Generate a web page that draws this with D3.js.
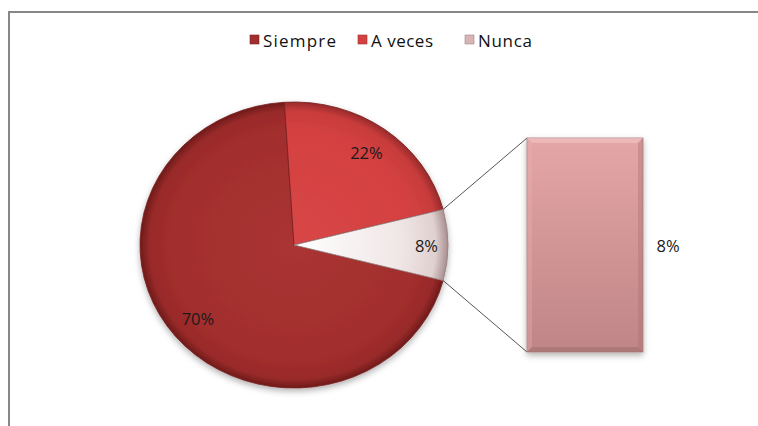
<!DOCTYPE html>
<html><head><meta charset="utf-8">
<script src="https://cdn.jsdelivr.net/npm/d3@7"></script>
<style>html,body{margin:0;padding:0;background:#fff;overflow:hidden}</style>
</head><body>
<svg id="c" width="758" height="426"></svg>
<script>
const categories = ["Siempre", "A veces", "Nunca"];
const values = [70, 22, 8];
const labels = ["70%", "22%", "8%"];
const barCategories = ["Nunca"];
const barValues = [8];
const barLabels = ["8%"];

const svg = d3.select("#c");
const defs = svg.append("defs");

// frame
svg.append("rect").attr("x", 9).attr("y", 12).attr("width", 800).attr("height", 500)
  .attr("fill", "#fff").attr("stroke", "#878787").attr("stroke-width", 2);

const grads = [
  {id: "g0", stops: [["0%", "#AA3432"], ["80%", "#A22E2D"], ["94%", "#992A29"], ["100%", "#6E1A1A"]]},
  {id: "g1", stops: [["0%", "#D84646"], ["80%", "#D44141"], ["94%", "#C83B3B"], ["100%", "#962A2A"]]},
  {id: "g2", stops: [["0%", "#FFFFFF"], ["70%", "#F0E6E6"], ["92%", "#E0D0D0"], ["100%", "#A88F8F"]]}
];
grads.forEach(g => {
  const rg = defs.append("radialGradient").attr("id", g.id)
    .attr("gradientUnits", "userSpaceOnUse").attr("cx", 0).attr("cy", 0).attr("r", 143);
  g.stops.forEach(s => rg.append("stop").attr("offset", s[0]).attr("stop-color", s[1]));
});
const lg = defs.append("linearGradient").attr("id", "gb").attr("x1", 0).attr("y1", 0).attr("x2", 0).attr("y2", 1);
[["0%", "#E5A6A6"], ["100%", "#BF8587"]].forEach(s => lg.append("stop").attr("offset", s[0]).attr("stop-color", s[1]));
const sh = defs.append("filter").attr("id", "sh").attr("x", "-20%").attr("y", "-20%").attr("width", "140%").attr("height", "140%");
sh.append("feDropShadow").attr("dx", 0).attr("dy", 3).attr("stdDeviation", 3).attr("flood-color", "#000").attr("flood-opacity", 0.3);

// pie
const cx = 294, cy = 245, rx = 154, ry = 143;
const total = d3.sum(values);
const nShare = values[2] / total;
const start = Math.PI / 2 + nShare * Math.PI;
const pie = d3.pie().sort(null).startAngle(start).endAngle(start + 2 * Math.PI);
const arcs = pie(values);
const arc = d3.arc().innerRadius(0).outerRadius(ry);

const pg = svg.append("g").attr("transform", `translate(${cx},${cy}) scale(${rx / ry},1)`)
  .attr("filter", "url(#sh)");
pg.selectAll("path").data(arcs).join("path")
  .attr("d", arc)
  .attr("fill", (d, i) => `url(#g${i})`)
  .attr("stroke", (d, i) => i === 2 ? "#9A8080" : "#7A2020")
  .attr("stroke-width", 0.8)
  .attr("stroke-linejoin", "round");

// labels
const lf = [0.81, 0.8, 0.86];
svg.selectAll("text.pl").data(arcs).join("text").attr("class", "pl")
  .attr("x", (d, i) => cx + Math.sin((d.startAngle + d.endAngle) / 2) * rx * lf[i])
  .attr("y", (d, i) => cy - Math.cos((d.startAngle + d.endAngle) / 2) * ry * lf[i])
  .attr("text-anchor", "middle").attr("dominant-baseline", "central")
  .attr("font-family", "Open Sans, sans-serif").attr("font-size", 16.5).attr("fill", "#1a1a1a")
  .text((d, i) => labels[i]);

// secondary bar
const barX = 527, barW = 116;
const y = d3.scaleLinear().domain([0, d3.sum(barValues)]).range([352, 138]);
const nA = arcs[2];
const p1 = [cx + Math.sin(nA.startAngle) * rx, cy - Math.cos(nA.startAngle) * ry];
const p2 = [cx + Math.sin(nA.endAngle) * rx, cy - Math.cos(nA.endAngle) * ry];
svg.append("line").attr("x1", p1[0]).attr("y1", p1[1]).attr("x2", barX).attr("y2", y(barValues[0]))
  .attr("stroke", "#555").attr("stroke-width", 1);
svg.append("line").attr("x1", p2[0]).attr("y1", p2[1]).attr("x2", barX).attr("y2", y(0))
  .attr("stroke", "#555").attr("stroke-width", 1);

const bg = svg.append("g").attr("filter", "url(#sh)");
bg.selectAll("rect").data(barValues).join("rect")
  .attr("x", barX).attr("y", d => y(d)).attr("width", barW).attr("height", d => y(0) - y(d))
  .attr("fill", "url(#gb)").attr("stroke", "#A87878").attr("stroke-width", 0.8);
// bevel edges
barValues.forEach(d => {
  const x0 = barX, x1 = barX + barW, y0 = y(d), y1 = y(0), b = 5;
  svg.append("path").attr("d", `M${x0},${y0}L${x1},${y0}L${x1 - b},${y0 + b}L${x0 + b},${y0 + b}Z`).attr("fill", "#F0C0C0").attr("opacity", 0.7);
  svg.append("path").attr("d", `M${x0},${y0}L${x0 + b},${y0 + b}L${x0 + b},${y1 - b}L${x0},${y1}Z`).attr("fill", "#E8B2B2").attr("opacity", 0.35);
  svg.append("path").attr("d", `M${x1},${y0}L${x1 - b},${y0 + b}L${x1 - b},${y1 - b}L${x1},${y1}Z`).attr("fill", "#A87274").attr("opacity", 0.4);
  svg.append("path").attr("d", `M${x0},${y1}L${x0 + b},${y1 - b}L${x1 - b},${y1 - b}L${x1},${y1}Z`).attr("fill", "#9E6E70").attr("opacity", 0.55);
});
svg.selectAll("text.bl").data(barValues).join("text").attr("class", "bl")
  .attr("x", 668).attr("y", d => (y(d) + y(0)) / 2)
  .attr("text-anchor", "middle").attr("dominant-baseline", "central")
  .attr("font-family", "Open Sans, sans-serif").attr("font-size", 16.5).attr("fill", "#1a1a1a")
  .text((d, i) => barLabels[i]);

// legend
const legCols = ["#A22E2D", "#D44141", "#D8B4B4"];
const legX = [250, 358, 465];
const legW = [73, 62, 54];
const lgG = svg.append("g");
categories.forEach((c, i) => {
  lgG.append("rect").attr("x", legX[i]).attr("y", 35).attr("width", 9).attr("height", 9)
    .attr("fill", legCols[i]).attr("stroke", d3.color(legCols[i]).darker(0.8)).attr("stroke-width", 0.6);
  lgG.append("text").attr("x", legX[i] + 13).attr("y", 46.5)
    .attr("font-family", "Open Sans, sans-serif").attr("font-size", 17).attr("fill", "#111")
    .attr("textLength", legW[i]).attr("lengthAdjust", "spacing")
    .text(c);
});
</script>
</body></html>
